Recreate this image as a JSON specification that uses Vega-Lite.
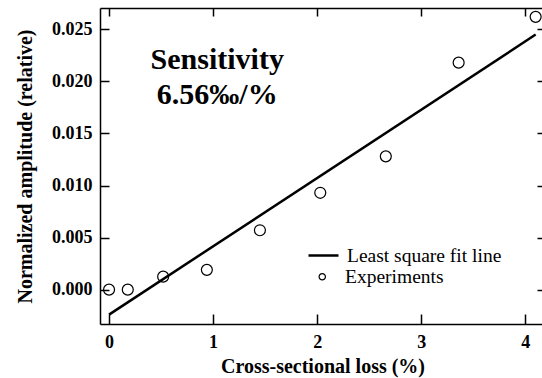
{
  "$schema": "https://vega.github.io/schema/vega-lite/v6.json",
  "width": 445,
  "height": 316,
  "autosize": {"type": "none"},
  "padding": {"left": 100, "top": 8, "right": 0, "bottom": 54},
  "config": {
    "font": "Liberation Serif",
    "view": {"stroke": null},
    "axis": {
      "domainColor": "black",
      "domainWidth": 1.5,
      "tickColor": "black",
      "tickWidth": 1.5,
      "labelColor": "black",
      "titleColor": "black",
      "grid": false,
      "labelFont": "Liberation Serif",
      "titleFont": "Liberation Serif",
      "labelFontSize": 18,
      "labelFontWeight": "bold",
      "titleFontSize": 20,
      "titleFontWeight": "bold"
    },
    "legend": {"labelFont": "Liberation Serif", "labelFontSize": 19.5, "labelColor": "black", "padding": 0}
  },
  "datasets": {
    "exp": [
      {"loss": 0.0, "amp": 0.0},
      {"loss": 0.18, "amp": 0.0},
      {"loss": 0.52, "amp": 0.00125},
      {"loss": 0.94, "amp": 0.0019},
      {"loss": 1.45, "amp": 0.0057},
      {"loss": 2.03, "amp": 0.0093},
      {"loss": 2.66, "amp": 0.0128},
      {"loss": 3.36, "amp": 0.0218},
      {"loss": 4.1, "amp": 0.0262}
    ],
    "fit": [
      {"loss": 0.0, "amp": -0.0024},
      {"loss": 4.1, "amp": 0.0245}
    ]
  },
  "layer": [
    {
      "data": {"name": "exp"},
      "mark": {"type": "point", "shape": "circle", "size": 120, "color": "black", "strokeWidth": 1.2, "filled": false, "opacity": 1},
      "encoding": {
        "x": {
          "field": "loss", "type": "quantitative",
          "scale": {"domain": [-0.087, 4.19], "nice": false, "zero": false},
          "axis": {"orient": "bottom", "values": [0, 1, 2, 3, 4], "format": "d", "tickSize": -10, "labelPadding": 19, "title": "Cross-sectional loss (%)", "titlePadding": 5}
        },
        "y": {
          "field": "amp", "type": "quantitative",
          "scale": {"domain": [-0.0033, 0.02705], "nice": false, "zero": false},
          "axis": {"orient": "left", "values": [0, 0.005, 0.01, 0.015, 0.02, 0.025], "format": ".3f", "tickSize": -9, "labelPadding": 17, "title": "Normalized amplitude (relative)", "titlePadding": 16}
        },
        "shape": {
          "datum": "Experiments", "type": "nominal",
          "scale": {"range": ["circle"]},
          "legend": {"orient": "none", "legendX": 212.5, "legendY": 259, "title": null, "symbolSize": 40, "symbolStrokeColor": "black", "symbolFillColor": "white", "symbolStrokeWidth": 1.2, "labelOffset": 13}
        }
      }
    },
    {
      "data": {"name": "fit"},
      "mark": {"type": "line", "strokeWidth": 2.5},
      "encoding": {
        "x": {
          "field": "loss", "type": "quantitative",
          "axis": {"orient": "top", "values": [0, 1, 2, 3, 4], "labels": false, "tickSize": -8, "title": null}
        },
        "y": {
          "field": "amp", "type": "quantitative",
          "axis": {"orient": "right", "values": [0, 0.005, 0.01, 0.015, 0.02, 0.025], "labels": false, "tickSize": -8, "title": null}
        },
        "stroke": {
          "datum": "Least square fit line", "type": "nominal",
          "scale": {"range": ["black"]},
          "legend": {"orient": "none", "legendX": 207, "legendY": 231, "title": null, "symbolType": "stroke", "symbolSize": 900, "symbolStrokeWidth": 2.5, "labelOffset": 7}
        }
      }
    },
    {
      "data": {"values": [{}]},
      "mark": {"type": "text", "text": ["Sensitivity", "6.56‰/%"], "fontSize": 30, "fontWeight": "bold", "font": "Liberation Serif", "color": "black", "lineHeight": 35, "align": "center", "baseline": "middle"},
      "encoding": {
        "x": {"datum": 1.04, "type": "quantitative", "axis": null},
        "y": {"datum": 0.0221, "type": "quantitative", "axis": null}
      }
    }
  ],
  "resolve": {"axis": {"x": "independent", "y": "independent"}}
}
